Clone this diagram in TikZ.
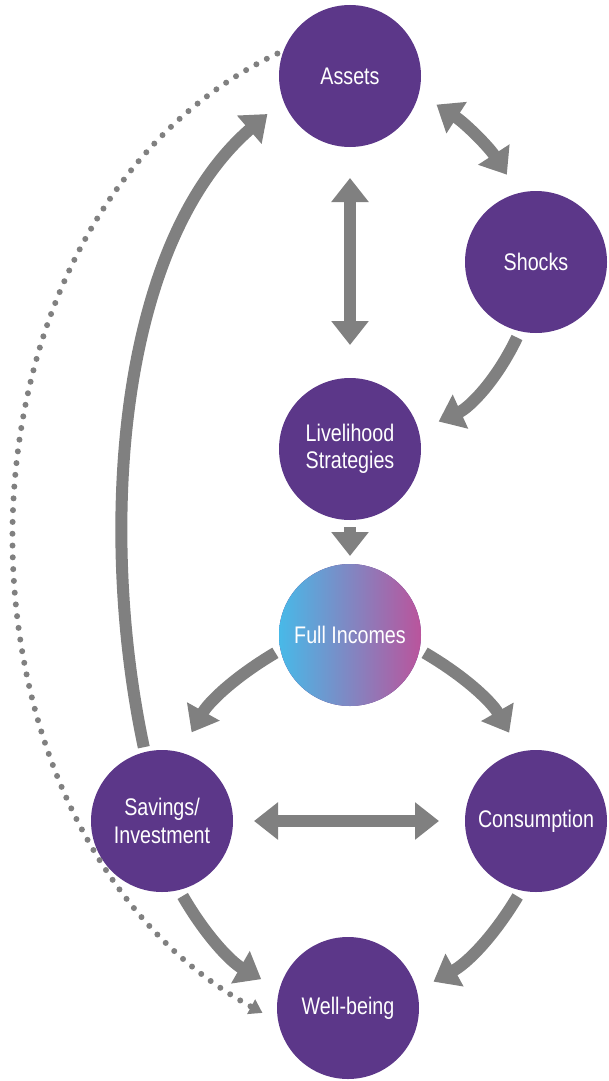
\documentclass[tikz,border=0pt]{standalone}
\usepackage{fontspec}
\newfontfamily\labelfont{Liberation Sans}[FakeStretch=0.82]
\usetikzlibrary{arrows.meta}

\definecolor{nodepurple}{RGB}{92,55,137}
\definecolor{linkgray}{RGB}{128,128,128}
\definecolor{incomecyan}{RGB}{72,185,232}
\definecolor{incomemagenta}{RGB}{186,84,156}

\tikzset{
  stage/.style={circle, fill=nodepurple, minimum size=142pt, inner sep=0pt, outer sep=0pt,
    text=white, align=center, font=\labelfont\fontsize{24}{27.5}\selectfont},
  flow/.style={draw=linkgray, line width=12pt, -{Triangle[width=36pt,length=24pt]}},
  twoway/.style={draw=linkgray, line width=12pt, {Triangle[width=36pt,length=24pt]}-{Triangle[width=36pt,length=24pt]}},
  feedback/.style={draw=linkgray, line width=6pt, line cap=round, dash pattern=on 0pt off 11.8pt,
    -{Triangle[width=16pt,length=13pt]}}
}

\begin{document}
\begin{tikzpicture}[x=1pt, y=-1pt]
  \useasboundingbox (0,0) rectangle (608,1081);

  % stages of the framework
  \node[stage] (assets) at (350,76) {Assets};
  \node[stage] (shocks) at (536,262) {Shocks};
  \node[stage] (liv) at (350,449) {Livelihood\\Strategies};
  \node[stage, left color=incomecyan, right color=incomemagenta] (full) at (350,635) {Full Incomes};
  \node[stage] (sav) at (162,821) {Savings/\\Investment};
  \node[stage] (cons) at (536,821) {Consumption};
  \node[stage] (wb) at (348,1008) {Well-being};

  % links between stages
  \draw[twoway, shorten <=21pt, shorten >=22pt] (assets.-14) to[bend left=12] (shocks.104);
  \draw[twoway, shorten <=31pt, shorten >=33pt] (assets.south) -- (liv.north);
  \draw[flow, shorten <=7pt, shorten >=22pt] (shocks.-103) to[bend left=20] (liv.15);
  \draw[flow, shorten <=7pt, shorten >=8pt] (liv.south) -- (full.north);
  \draw[flow, shorten <=6pt, shorten >=23pt] (full.192.8) to[bend right=15] (sav.75.8);
  \draw[flow, shorten <=6pt, shorten >=22pt] (full.-12.8) to[bend left=15] (cons.103);
  \draw[twoway, shorten <=21pt, shorten >=26pt] (sav.east) -- (cons.west);
  \draw[flow, shorten <=7pt, shorten >=21pt] (sav.-76.7) to[bend right=15] (wb.165.5);
  \draw[flow, shorten <=7pt, shorten >=19pt] (cons.-102) to[bend left=15] (wb.14.8);

  % reinvestment loop back to assets
  \draw[flow, shorten <=5pt, shorten >=21pt] (sav.104) .. controls +(-47,-221) and +(-166,144) .. (assets.200);

  % direct link from assets to well-being
  \draw[feedback, shorten <=7pt, shorten >=18pt] (assets.159) .. controls +(-356,169) and +(-349,-191) .. (wb.191.7);
\end{tikzpicture}
\end{document}
